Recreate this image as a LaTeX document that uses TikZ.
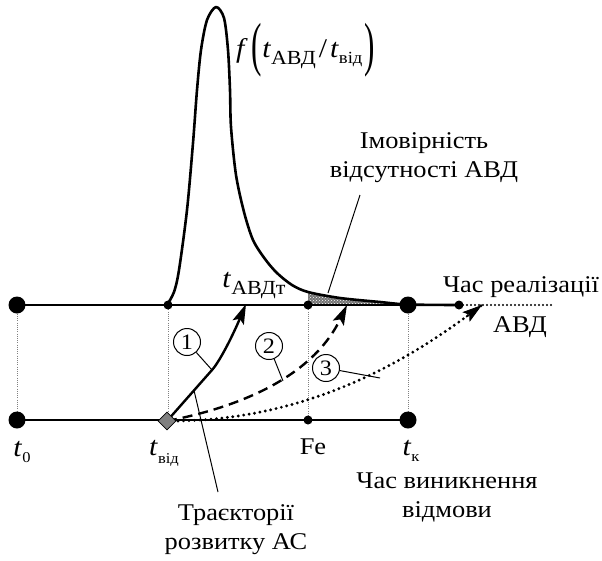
\documentclass[tikz,border=0pt]{standalone}
\usepackage{fontspec}
\setmainfont[FakeStretch=1.1]{Liberation Serif}
\usetikzlibrary{arrows.meta,patterns,shapes.geometric,calc}
\newcommand{\fsz}[1]{\fontsize{#1}{#1}\selectfont}
\begin{document}
\begin{tikzpicture}[x=1pt,y=-1pt,
  bigdot/.style={circle,fill=black,inner sep=0pt,minimum size=17pt},
  smalldot/.style={circle,fill=black,inner sep=0pt,minimum size=9pt},
  mainline/.style={line width=2.4pt},
  guide/.style={line width=0.9pt,gray,dash pattern=on 1pt off 1.2pt},
  lbl/.style={font=\fsz{24},inner sep=0pt,align=center},
  numc/.style={circle,draw,line width=1pt,minimum size=27pt,inner sep=0pt,font=\fsz{22},fill=white},
  leader/.style={line width=1pt},
  tipp/.style={-{Stealth[length=20pt,width=12pt,inset=4pt]}},
  curve/.style={line width=2.6pt,line join=round},
  dotline/.style={line width=3.2pt,line cap=round,dash pattern=on 0pt off 5.5pt}
]
\useasboundingbox (0,0) rectangle (602,560);

% key coordinates
\coordinate (s) at (167,421);
\coordinate (k1) at (212,370);
\coordinate (T1) at (246,304);
\coordinate (T2) at (347,305);
\coordinate (T3) at (482,305);
\coordinate (T3b) at (466,317);
\coordinate (xend) at (553,305);

% shaded probability area
\begin{scope}
\clip (308,270) rectangle (408,305);
\fill[black!55]
  plot[smooth,tension=0.5] coordinates {(277,273) (292,285) (308,292) (340,298) (380,302) (408,304.5) (459,305)}
  -- (459,305) -- (277,305) -- cycle;
\fill[pattern=crosshatch dots,pattern color=white]
  plot[smooth,tension=0.5] coordinates {(277,273) (292,285) (308,292) (340,298) (380,302) (408,304.5) (459,305)}
  -- (459,305) -- (277,305) -- cycle;
\end{scope}

% guides
\draw[guide] (17,305) -- (17,420);
\draw[guide] (168,305) -- (168,420);
\draw[guide] (308,305) -- (308,420);
\draw[guide] (408,305) -- (408,420);

% axes lines
\draw[mainline] (17,305) -- (459,305);
\draw[mainline] (17,420) -- (408,420);
\draw[line width=2.4pt,line cap=round,dash pattern=on 0pt off 4pt] (459,305) -- (xend);

% density curve
\draw[curve] plot[smooth,tension=0.5] coordinates {(167,305) (174,292) (179,270) (187,210) (193,143) (197,90) (201,50) (207,20) (216,7) (224,18) (228,50) (230,90) (231,127) (236,175) (244,212) (253,240) (265,259) (277,273) (292,285) (308,292) (340,298) (380,302) (408,304.5) (459,305)};

% trajectories
\draw[mainline,tipp] (s) -- (k1) .. controls (220,361) and (233,335) .. (T1);
\draw[mainline,tipp,dash pattern=on 10pt off 6pt] (s) .. controls (250,405) and (315,372) .. (T2);
\draw[dotline] (s) .. controls (320,422) and (425,348) .. (T3);
\draw[line width=1pt,tipp] (T3b) -- (T3);

% dots
\node[bigdot] (L1) at (17,305) {};
\node[bigdot] (L2) at (17,420) {};
\node[bigdot] (R1) at (408,305) {};
\node[bigdot] (R2) at (408,420) {};
\node[smalldot] (A1) at (168,305) {};
\node[smalldot] (F1) at (308,305) {};
\node[smalldot] (F2) at (308,420) {};
\node[smalldot] (E1) at (459,305) {};
\node[diamond,draw,fill=gray,line width=0.8pt,minimum size=18pt,inner sep=0pt] (D) at (s) {};

% circled numbers
\node[numc] (n1) at (187,342) {1};
\node[numc] (n2) at (269,346) {2};
\node[numc] (n3) at (326,368) {3};
\coordinate (k2) at (283,381);
\coordinate (k3) at (380,378);
\draw[leader] (n1) -- (k1);
\draw[leader] (n2) -- (k2);
\draw[leader] (n3) -- (k3);

% axis labels
\node[inner sep=0pt] (t0) at (22,452) {\fsz{27}\textit{t}\raisebox{-6pt}{\fsz{15}0}};
\node[inner sep=0pt] (tvid) at (164,453) {\fsz{27}\textit{t}\raisebox{-8pt}{\fsz{15}від}};
\node[lbl] (fe) at (313,447) {Fe};
\node[inner sep=0pt] (tk) at (411,451) {\fsz{27}\textit{t}\raisebox{-6pt}{\fsz{15}к}};
\node[inner sep=0pt] (tavd) at (254,286) {\fsz{27}\textit{t}\raisebox{-7pt}{\fsz{20}АВДт}};

% density label
\node[inner sep=0pt,anchor=base west] (flab) at (236,57) {\fsz{27}\textit{f}\hspace{4pt}\raisebox{-7pt}{\scalebox{1.05}[2.2]{(}}\textit{t}\raisebox{-7pt}{\fsz{20}АВД}\hspace{3pt}/\hspace{3pt}\textit{t}\raisebox{-6pt}{\fsz{17}від}\hspace{2pt}\raisebox{-7pt}{\scalebox{1.05}[2.2]{)}}};

% text labels
\node[lbl] (imov) at (424,158) {Імовірність\\[5pt]відсутності АВД};
\coordinate (pimov) at (328,293);
\coordinate (qimov) at (360,195);
\draw[leader] (qimov) -- (pimov);

\node[lbl] (real) at (521,287) {Час реалізації};
\node[lbl] (avd) at (520,327) {АВД};

\node[lbl] (vyn) at (447,497) {Час виникнення\\[5pt]відмови};

\node[lbl] (traj) at (236,530) {Траєкторії\\[5pt]розвитку АС};
\coordinate (qtraj) at ($(s)!0.6!(k1)$);
\coordinate (ptraj) at (218,492);
\draw[leader] (qtraj) -- (ptraj);
\end{tikzpicture}
\end{document}
